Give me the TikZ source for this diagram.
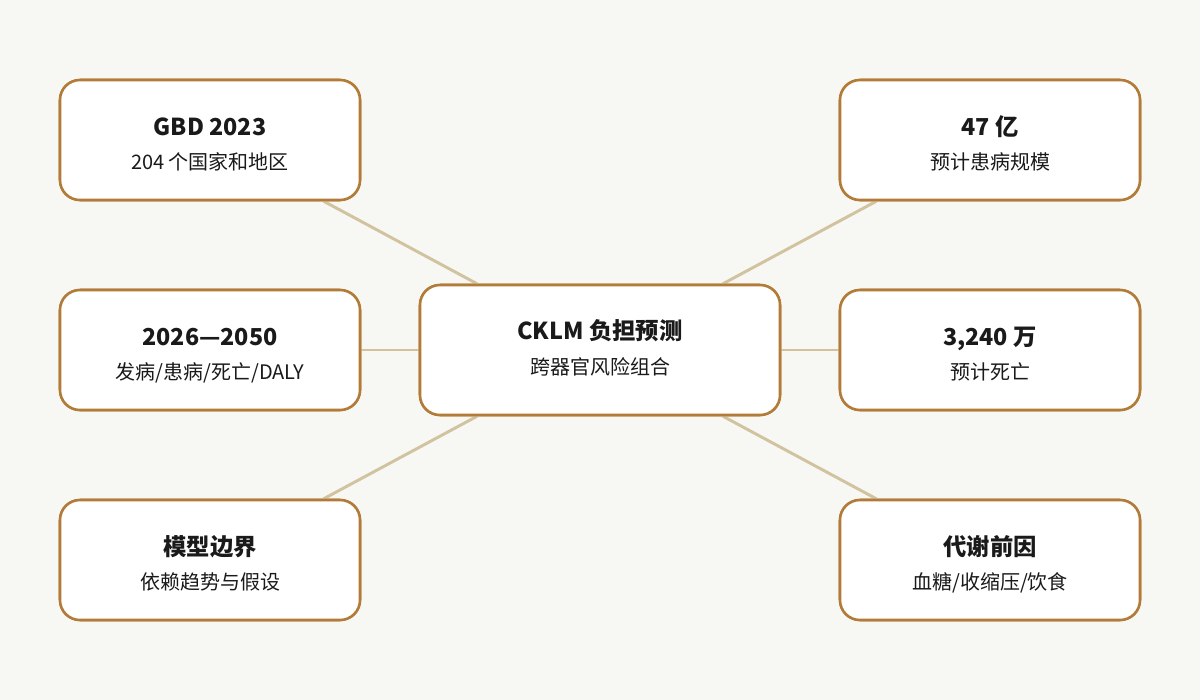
\documentclass[tikz,border=0pt]{standalone}
\usepackage{fontspec}
\setmainfont{Noto Sans CJK SC}
\definecolor{bg}{HTML}{F7F7F3}
\definecolor{bd}{HTML}{B37B38}
\definecolor{ln}{HTML}{D2C3A0}
\definecolor{tx}{HTML}{1A1A1A}
\begin{document}
\begin{tikzpicture}[x=0.75pt,y=-0.75pt,
  box/.style={draw=bd,line width=1.9pt,fill=white,rounded corners=15pt,minimum width=225pt,minimum height=90pt,inner sep=0pt},
  cbox/.style={box,minimum width=270pt,minimum height=97.5pt},
  conn/.style={draw=ln,line width=2.2pt},
  ttl/.style={anchor=base,inner sep=0pt,text=tx,font=\fontsize{17.5pt}{20pt}\bfseries},
  sub/.style={anchor=base,inner sep=0pt,text=tx,font=\fontsize{15pt}{18pt}\selectfont}]
\fill[bg] (0,0) rectangle (1200,700);
\useasboundingbox (0,0) rectangle (1200,700);
\node[box] (tl) at (210,140) {};
\node[box] (ml) at (210,350) {};
\node[box] (bl) at (210,560) {};
\node[box] (tr) at (990,140) {};
\node[box] (mr) at (990,350) {};
\node[box] (br) at (990,560) {};
\node[cbox] (c) at (600,350) {};
\foreach \n in {tl,ml,bl,tr,mr,br} \draw[conn] (c) -- (\n);
\foreach \n in {tl,ml,bl,tr,mr,br} \node[box] at (\n) {};
\node[cbox] at (c) {};
\node[ttl] (t1) at (210,135) {GBD 2023};
\node[sub] (s1) at (210,169) {204 个国家和地区};
\node[ttl] (t2) at (210,345) {2026—2050};
\node[sub] (s2) at (210,379) {发病/患病/死亡/DALY};
\node[ttl] (t3) at (210,555) {模型边界};
\node[sub] (s3) at (210,589) {依赖趋势与假设};
\node[ttl] (t4) at (990,135) {47 亿};
\node[sub] (s4) at (990,169) {预计患病规模};
\node[ttl] (t5) at (990,345) {3,240 万};
\node[sub] (s5) at (990,379) {预计死亡};
\node[ttl] (t6) at (990,555) {代谢前因};
\node[sub] (s6) at (990,589) {血糖/收缩压/饮食};
\node[ttl] (t7) at (600,339) {CKLM 负担预测};
\node[sub] (s7) at (600,374) {跨器官风险组合};
\end{tikzpicture}
\end{document}
